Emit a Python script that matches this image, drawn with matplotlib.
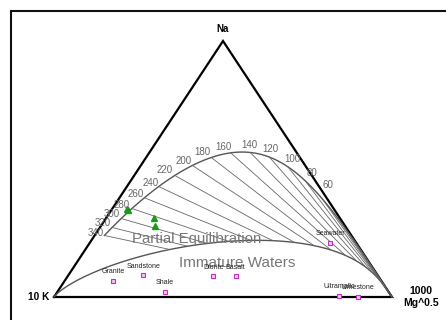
import numpy as np
import matplotlib
matplotlib.use("Agg")
import matplotlib.pyplot as plt
from matplotlib.patches import Rectangle

plt.rcParams["font.family"] = ["Liberation Sans", "DejaVu Sans"]

# =========================
# Giggenbach (1988) Na-K-Mg geothermometers
# =========================
KN_A, KN_B = 1390.0, 1.75   # t = 1390 / (1.75 - log(K/Na)) - 273.15
KM_A, KM_B = 4410.0, 14.0   # t = 4410 / (14.0 - log(K^2/Mg)) - 273.15
MI_IMMATURE = 2.0           # maturity index of the immature-water boundary

TIE_TEMPS = [340, 320, 300, 280, 260, 240, 220, 200, 180, 160, 140, 120, 100, 80, 60, 40, 20]
LABEL_TEMPS = [340, 320, 300, 280, 260, 240, 220, 200, 180, 160, 140, 120, 100, 80, 60]
# where each temperature label sits relative to its curve point (pixels, right / up)
LABEL_SHIFT = [(-9, 2), (-9, 4), (-9, 4), (-10, 4), (-9, 4), (-8, 4), (-10, 5), (-9, 4),
               (-9, 5), (-7, 6), (-1, 7), (1, 8), (5, 8), (7, 8), (6, 14)]

# Samples (% of Na/1000 + K/100 + Mg^0.5)
sample_na = [34.0, 34.4, 31.0, 27.9]
sample_k = [61.0, 61.1, 54.9, 56.2]
sample_mg = [5.0, 4.5, 14.1, 15.9]

# Reference rocks / waters
rock_names = ["Granite", "Sandstone", "Shale", "Diorite", "Basalt", "Seawater", "Ultramafic", "Limestone"]
rock_na = [6.4, 8.5, 2.0, 8.1, 8.1, 21.2, 0.5, 0.0]
rock_k = [79.4, 69.3, 66.2, 48.8, 42.2, 7.7, 15.4, 10.0]
rock_mg = [14.2, 22.2, 31.8, 43.1, 49.7, 71.1, 84.1, 90.0]


def to_xy(na, k, mg):
    """Ternary -> cartesian (K bottom-left, Mg bottom-right, Na top)."""
    na, k, mg = (np.asarray(v, dtype=float) for v in (na, k, mg))
    s = na + k + mg
    n, m = na / s, mg / s
    return m + n / 2, n


def full_equilibrium(t):
    tk = np.asarray(t, dtype=float) + 273.15
    r = 10 ** (KN_B - KN_A / tk)          # K/Na
    k = 1000.0 * r
    mg = k ** 2 / 10 ** (KM_B - KM_A / tk)
    return 1.0, k / 100.0, np.sqrt(mg)


def immature(log_r):
    log_r = np.asarray(log_r, dtype=float)
    k = 1000.0 * 10 ** log_r
    mg = k ** 2 / 10 ** ((MI_IMMATURE + log_r) / 0.315)
    return 1.0, k / 100.0, np.sqrt(mg)


fig = plt.figure(figsize=(4.46, 3.2), dpi=100)
ax = fig.add_axes([0, 0, 1, 1])
ax.set_xlim(-54 / 338, 392 / 338)
ax.set_ylim(-23 / 256, 297 / 256)
ax.axis("off")

# outer frame
fig.add_artist(Rectangle((11 / 446, -0.05), 1.1, 309 / 320 + 0.05, transform=fig.transFigure,
                         fill=False, lw=1.5, ec="#111111"))

# triangle
ax.plot([0, 1, 0.5, 0], [0, 0, 1, 0], color="black", lw=1.6, solid_joinstyle="miter")

# full equilibrium curve
t_curve = np.linspace(340, 0, 400)
fx, fy = to_xy(*np.broadcast_arrays(*full_equilibrium(t_curve)))
fx, fy = np.append(fx, 1.0), np.append(fy, 0.0)
ax.plot(fx, fy, color="#555555", lw=1.0)

# immature water boundary
lr = np.linspace(3.5, -7, 600)
ix, iy = to_xy(*np.broadcast_arrays(*immature(lr)))
ix, iy = np.concatenate([[0.0], ix, [1.0]]), np.concatenate([[0.0], iy, [0.0]])
ax.plot(ix, iy, color="#555555", lw=1.0)

# isotherms: constant K/Na from full equilibrium to immature line
for t in TIE_TEMPS:
    tk = t + 273.15
    log_r = KN_B - KN_A / tk
    x0, y0 = to_xy(*full_equilibrium(t))
    x1, y1 = to_xy(*immature(log_r))
    ax.plot([x0, x1], [y0, y1], color="#666666", lw=0.6)

# temperature labels
for t, (dx, dy) in zip(LABEL_TEMPS, LABEL_SHIFT):
    x, y = to_xy(*full_equilibrium(t))
    ax.annotate(str(t), (x, y), xytext=(dx, dy), textcoords="offset pixels",
                ha="center", va="center", fontsize=7, color="#666666")

# region names
ax.text(0.423, 0.226, "Partial Equilibration", fontsize=10.8, color="#777777", ha="center", va="center")
ax.text(0.541, 0.133, "Immature Waters", fontsize=11, color="#777777", ha="center", va="center")

# vertex labels
ax.annotate("Na", (0.5, 1), xytext=(0, 9), textcoords="offset points", ha="center", va="center",
            fontsize=7, fontweight="bold")
ax.annotate("10 K", (0, 0), xytext=(-3, 0), textcoords="offset points", ha="right", va="center",
            fontsize=7.3, fontweight="bold")
ax.annotate("1000\nMg^0.5", (1, 0), xytext=(21, 0), textcoords="offset points", ha="center", va="center",
            fontsize=7.5, fontweight="bold", linespacing=1.15)

# rocks
rx, ry = to_xy(rock_na, rock_k, rock_mg)
ax.plot(rx, ry, "s", ms=3.5, mfc="#f2c6f2", mec="#c030c0", mew=0.8, ls="none")
for name, x, y in zip(rock_names, rx, ry):
    ax.annotate(name, (x, y), xytext=(0, 6.5), textcoords="offset points", ha="center", va="center",
                fontsize=5, color="#222222")

# samples
sx, sy = to_xy(sample_na, sample_k, sample_mg)
ax.plot(sx, sy, "^", ms=5, color="#1a9a1a", ls="none")

fig.savefig("out.png", dpi=100)
